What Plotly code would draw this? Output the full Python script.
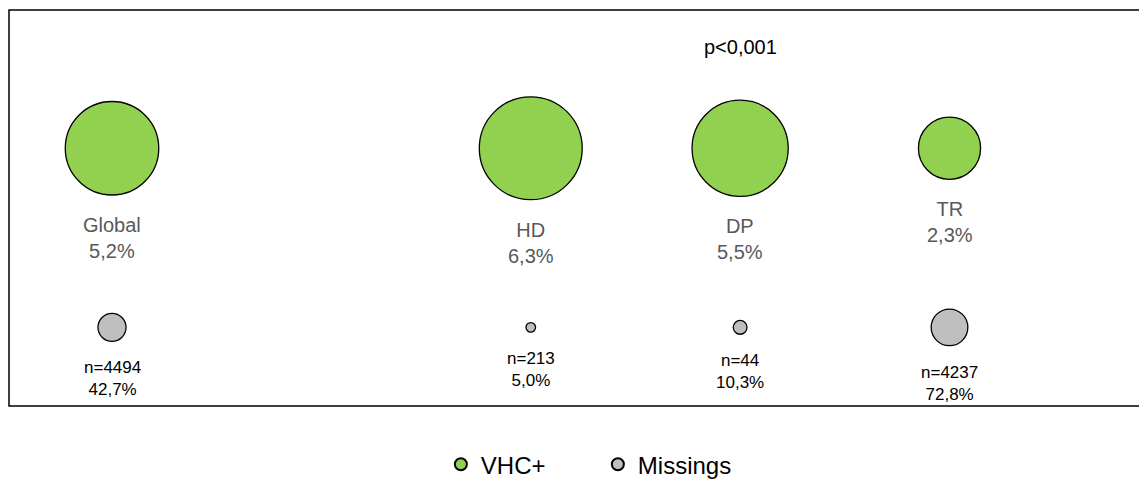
import numpy as np
import plotly.graph_objects as go

# data
groups = ["Global", "HD", "DP", "TR"]
vhc_pct = [5.2, 6.3, 5.5, 2.3]          # % VHC+
miss_n = [4494, 213, 44, 4237]           # n missing
miss_pct = [42.7, 5.0, 10.3, 72.8]       # % missing
p_text = "p<0,001"

cat_order = ["Global", " ", "HD", "DP", "TR"]   # empty slot after Global

# bubble scale: diameter (px) per sqrt(%)
k_green = 41.0
k_grey = 4.3
font = "Liberation Sans, Arial"


def fmt(v):
    return f"{v:.1f}".replace(".", ",") + "%"


fig = go.Figure()

fig.add_trace(go.Scatter(
    x=groups, y=["VHC+"] * len(groups), name="VHC+", mode="markers",
    marker=dict(size=vhc_pct, sizemode="area", sizeref=2 / k_green**2, opacity=1,
                color="#92D050", line=dict(color="black", width=1.3)),
    cliponaxis=False))

fig.add_trace(go.Scatter(
    x=groups, y=["Missings"] * len(groups), name="Missings", mode="markers",
    marker=dict(size=miss_pct, sizemode="area", sizeref=2 / k_grey**2, opacity=1,
                color="#BFBFBF", line=dict(color="black", width=1.3)),
    cliponaxis=False))

# labels under each bubble (offset by bubble radius)
for g, v in zip(groups, vhc_pct):
    r = k_green * np.sqrt(v) / 2
    fig.add_annotation(x=g, y="VHC+", text=g + "<br>" + fmt(v), showarrow=False,
                       yanchor="top", yshift=-(r + 17),
                       font=dict(family=font, size=20, color="#595959"))
for g, n, v in zip(groups, miss_n, miss_pct):
    r = k_grey * np.sqrt(v) / 2
    fig.add_annotation(x=g, y="Missings", text="n=" + str(n) + "<br>" + fmt(v), showarrow=False,
                       yanchor="top", yshift=-(r + 15),
                       font=dict(family=font, size=17, color="black"))

fig.add_annotation(x="DP", y=0.907, yref="paper", yanchor="middle", text=p_text, showarrow=False,
                   font=dict(family=font, size=20, color="black"))

# plot frame (right side runs off the image)
fig.add_shape(type="rect", xref="paper", yref="paper", x0=0, x1=1.05, y0=0, y1=1,
              line=dict(color="black", width=1.5))

fig.update_xaxes(type="category", categoryorder="array", categoryarray=cat_order,
                 range=[-0.492, 4.948], visible=False)
fig.update_yaxes(type="category", categoryorder="array", categoryarray=["Missings", "VHC+"],
                 range=[-0.439, 1.772], visible=False)

fig.update_layout(
    width=1147, height=480,
    margin=dict(l=1, r=7, t=2, b=80),
    paper_bgcolor="white", plot_bgcolor="white",
    showlegend=True,
    legend=dict(orientation="h", x=0.517, xanchor="center", y=-0.148, yanchor="middle",
                itemsizing="constant", entrywidth=112, entrywidthmode="pixels",
                font=dict(family=font, size=24, color="black")),
    font=dict(family=font),
)

fig.write_html("out.html")
